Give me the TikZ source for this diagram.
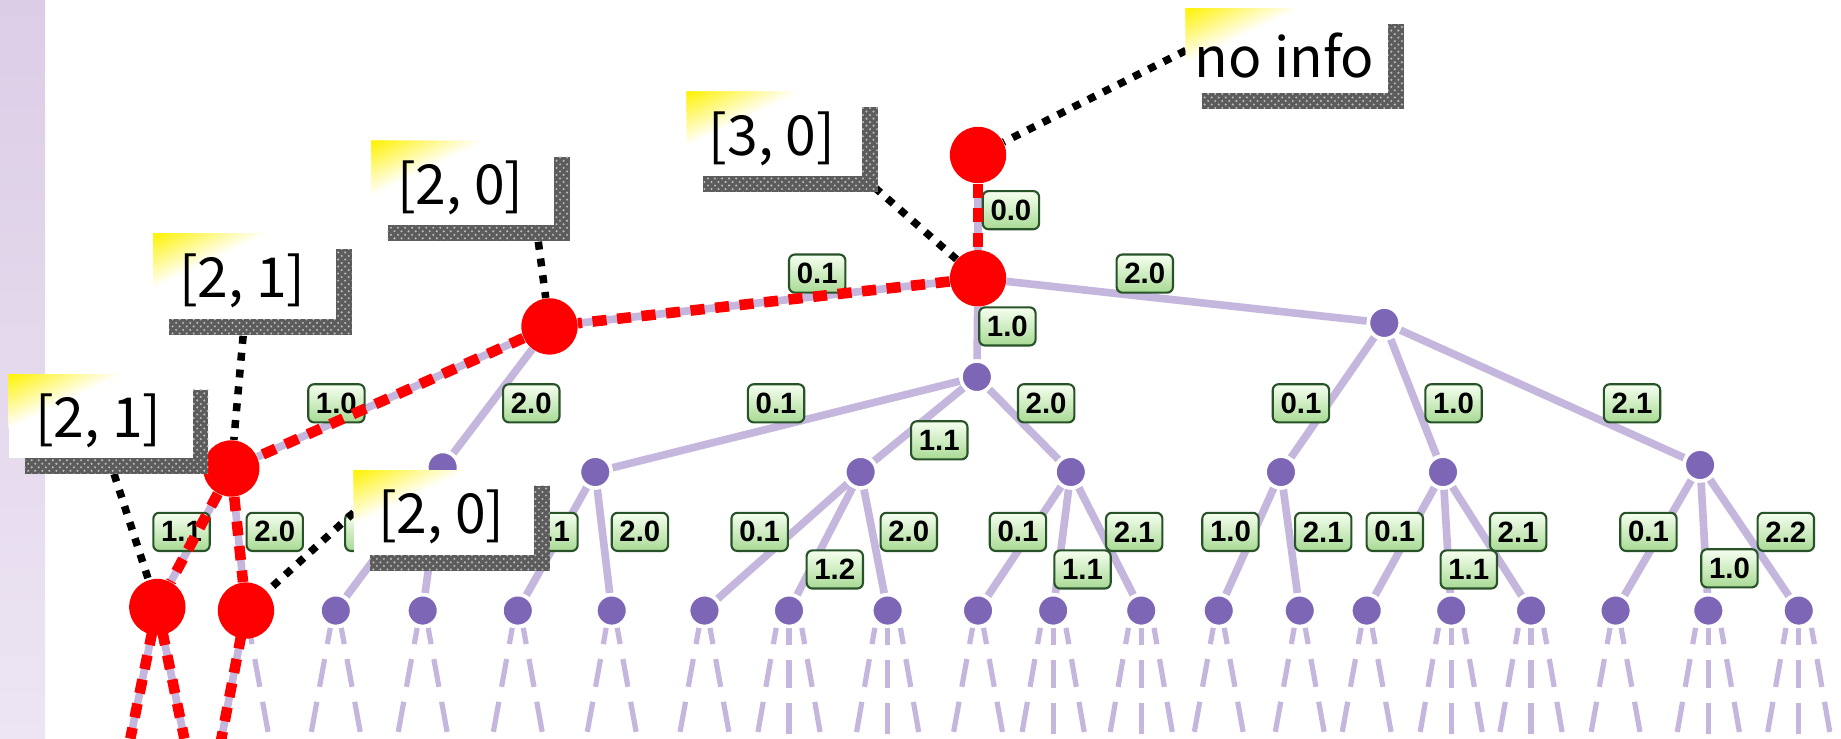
\documentclass[tikz,border=0pt]{standalone}
\usepackage{fontspec}
\setmainfont{Noto Sans CJK JP}
\newfontfamily\tagfont{Liberation Sans}
\usetikzlibrary{calc,patterns}

\pgfdeclarelayer{back}
\pgfdeclarelayer{edgelayer}
\pgfdeclarelayer{labellayer}
\pgfdeclarelayer{hotlayer}
\pgfdeclarelayer{calllayer}
\pgfdeclarelayer{front}
\pgfsetlayers{back,edgelayer,labellayer,hotlayer,calllayer,main,front}

\definecolor{edgepurple}{RGB}{196,182,220}
\definecolor{nodepurple}{RGB}{126,102,182}
\definecolor{pathred}{RGB}{255,0,0}
\definecolor{tagborder}{RGB}{40,82,40}
\definecolor{tagtop}{RGB}{246,255,240}
\definecolor{tagbottom}{RGB}{168,218,148}
\definecolor{stripA}{RGB}{219,205,230}
\definecolor{stripB}{RGB}{237,229,243}
\definecolor{shadowgray}{RGB}{92,92,92}

\tikzset{
  treeedge/.style={draw=edgepurple, line width=3.25pt},
  stubline/.style={draw=edgepurple, line width=2.2pt,
    dash pattern=on 0pt off 7.5pt on 7pt off 6.5pt on 12pt off 6.5pt on 13pt off 200pt},
  hotedge/.style={draw=pathred, line width=4.5pt, dash pattern=on 6pt off 4.5pt},
  pnode/.style={circle, fill=nodepurple, draw=white, line width=1.5pt,
    minimum size=13.5pt, inner sep=0pt},
  rnode/.style={circle, fill=pathred, minimum size=24pt, inner sep=0pt},
  tag/.style={rounded corners=2.5pt, draw=tagborder, line width=0.9pt,
    top color=tagtop, bottom color=tagbottom, minimum width=24pt,
    minimum height=16.25pt, inner sep=0pt,
    font=\tagfont\bfseries\fontsize{12.5}{12.5}\selectfont},
  callline/.style={draw=black, line width=3.2pt, dash pattern=on 3.4pt off 3.8pt},
  callbox/.style={rectangle, fill=white, inner sep=0pt, outer sep=0pt},
  calltext/.style={inner sep=0pt, font=\fontsize{23.5}{26}\selectfont},
}

% callout: name, left, top, width, height, text
\newcommand\callout[6]{%
  \begin{pgfonlayer}{front}
    \fill[shadowgray] ({#2+13.5},{#3+13.5}) rectangle ++(#4,#5);
    \fill[pattern=crosshatch dots, pattern color=gray!55!white]
      ({#2+13.5},{#3+13.5}) rectangle ++(#4,#5);
    \node[callbox, minimum width={#4*0.5pt}, minimum height={#5*0.5pt},
      anchor=north west] (#1) at (#2,#3) {};
    \foreach \k in {24,23,...,1}{%
      \pgfmathsetmacro\pc{100*(1-(\k-0.5)/24)}%
      \fill[yellow!\pc!white] (#2,#3) -- ++({98*\k/24},0) -- ({#2},{#3+47*\k/24}) -- cycle;
    }
    \node[calltext] (#1t) at ($(#1.center)+(-2,4)$) {#6};
  \end{pgfonlayer}}

\newcommand\twostubs[1]{%
  \draw[stubline] ($(#1)+(-2,0)$) -- ++(-20,110);
  \draw[stubline] ($(#1)+(2,0)$) -- ++(20,110);}
\newcommand\threestubs[1]{%
  \draw[stubline] ($(#1)+(-8.3,0)$) -- ++(-19.3,110);
  \draw[stubline] ($(#1)+(0,0)$) -- ++(0,110);
  \draw[stubline] ($(#1)+(8.3,0)$) -- ++(19.3,110);}

\begin{document}
\begin{tikzpicture}[x=0.5pt,y=-0.5pt]
\useasboundingbox (0,0) rectangle (1568,629);

\begin{pgfonlayer}{back}
  \fill[white] (0,0) rectangle (1568,629);
  \shade[top color=stripA, bottom color=stripB] (0,0) rectangle (38.5,629);
\end{pgfonlayer}

% search path nodes
\node[rnode] (R0) at (833,132) {};
\node[rnode] (R1) at (833,237) {};
\node[rnode] (R2) at (468,278) {};
\node[rnode] (R3) at (197,399) {};
\node[rnode] (R4) at (134,517) {};
\node[rnode] (R5) at (209.5,520) {};

% remaining tree nodes
\node[pnode] (Pa) at (832,321) {};
\node[pnode] (Pb) at (1179,275) {};
\node[pnode] (P2a) at (377,398) {};
\node[pnode] (P2b) at (507,402) {};
\node[pnode] (P2c) at (733,402) {};
\node[pnode] (P2d) at (912,402) {};
\node[pnode] (P2e) at (1091,402) {};
\node[pnode] (P2f) at (1229,402) {};
\node[pnode] (P2g) at (1448,396) {};
\foreach \n/\x in {B1/286, B2/360, B3/441, B4/521, B5/600, B6/672, B7/756,
  B8/833, B9/897, B10/972, B11/1038, B12/1107, B13/1164, B14/1236,
  B15/1304, B16/1376, B17/1455, B18/1532}
  \node[pnode] (\n) at (\x,520) {};

\begin{pgfonlayer}{edgelayer}
  \foreach \a/\b in {R0/R1, R1/R2, R1/Pa, R1/Pb, R2/R3, R2/P2a, R3/R4, R3/R5,
    Pa/P2b, Pa/P2c, Pa/P2d, Pb/P2e, Pb/P2f, Pb/P2g,
    P2a/B1, P2a/B2, P2b/B3, P2b/B4, P2c/B5, P2c/B6, P2c/B7,
    P2d/B8, P2d/B9, P2d/B10, P2e/B11, P2e/B12, P2f/B13, P2f/B14, P2f/B15,
    P2g/B16, P2g/B17, P2g/B18}
    \draw[treeedge] (\a) -- (\b);
  \draw[treeedge] (R4.center) -- ++(-23,112);
  \draw[treeedge] (R4.center) -- ++(23,112);
  \draw[treeedge] (R5.center) -- ++(-21.5,112);
  \draw[stubline] (R5.center) -- ++(20,110);
  \foreach \n in {B1,B2,B3,B4,B5,B8,B11,B12,B13,B16} {\twostubs{\n}}
  \foreach \n in {B6,B7,B9,B10,B14,B15,B17,B18} {\threestubs{\n}}
\end{pgfonlayer}

\begin{pgfonlayer}{labellayer}
  \node[tag] (t1) at (861,179) {0.0};
  \node[tag] (t2) at (696,233) {0.1};
  \node[tag] (t3) at (975,233) {2.0};
  \node[tag] (t4) at (858,278) {1.0};
  \node[tag] (t5) at (286.5,343.5) {1.0};
  \node[tag] (t6) at (452.5,343.5) {2.0};
  \node[tag] (t7) at (661,343.5) {0.1};
  \node[tag] (t8) at (800,375) {1.1};
  \node[tag] (t9) at (891,343.5) {2.0};
  \node[tag] (t10) at (1108,343.5) {0.1};
  \node[tag] (t11) at (1238,343.5) {1.0};
  \node[tag] (t12) at (1390,343.5) {2.1};
  \node[tag] (t13) at (154.6,453) {1.1};
  \node[tag] (t14) at (234,453) {2.0};
  \node[tag] (t15) at (318,453) {};
  \node[tag] (t16) at (468,453) {0.1};
  \node[tag] (t17) at (545,453) {2.0};
  \node[tag] (t18) at (647,453) {0.1};
  \node[tag] (t19) at (711,485) {1.2};
  \node[tag] (t20) at (774,453) {2.0};
  \node[tag] (t21) at (867,453) {0.1};
  \node[tag] (t22) at (922,485) {1.1};
  \node[tag] (t23) at (966,453) {2.1};
  \node[tag] (t24) at (1048,453) {1.0};
  \node[tag] (t25) at (1127,453) {2.1};
  \node[tag] (t26) at (1188,453) {0.1};
  \node[tag] (t27) at (1251,485) {1.1};
  \node[tag] (t28) at (1293,453) {2.1};
  \node[tag] (t29) at (1404,453) {0.1};
  \node[tag] (t30) at (1473,484) {1.0};
  \node[tag] (t31) at (1521,453) {2.2};
\end{pgfonlayer}

\begin{pgfonlayer}{hotlayer}
  \foreach \a/\b in {R0/R1, R1/R2, R2/R3, R3/R4, R3/R5}
    \draw[hotedge] (\a) -- (\b);
  \draw[hotedge] (R4.center) -- ++(-23,112);
  \draw[hotedge] (R4.center) -- ++(23,112);
  \draw[hotedge] (R5.center) -- ++(-21.5,112);
\end{pgfonlayer}

% callouts
\callout{cnoinfo}{1010}{7}{172}{72}{no info}
\callout{cthreezero}{585}{78}{149}{72}{[3, 0]}
\callout{ctwozeroa}{316.6}{120}{155}{71.6}{[2, 0]}
\callout{ctwoonea}{130.7}{198.7}{155.3}{73}{[2, 1]}
\callout{ctwooneb}{7.4}{318.6}{156.6}{71.4}{[2, 1]}
\callout{ctwozerob}{301.3}{400.3}{153.4}{72.4}{[2, 0]}

\begin{pgfonlayer}{calllayer}
  \draw[callline] (cnoinfo.west) -- (R0);
  \draw[callline] (cthreezero.south east) -- (R1);
  \draw[callline] ([xshift=-7.5pt]ctwozeroa.south east) -- (R2);
  \draw[callline] (ctwoonea.south) -- (R3);
  \draw[callline] ([xshift=3.5pt]ctwooneb.south) -- (R4);
  \draw[callline] (ctwozerob.west) -- (R5);
\end{pgfonlayer}
\end{tikzpicture}
\end{document}
